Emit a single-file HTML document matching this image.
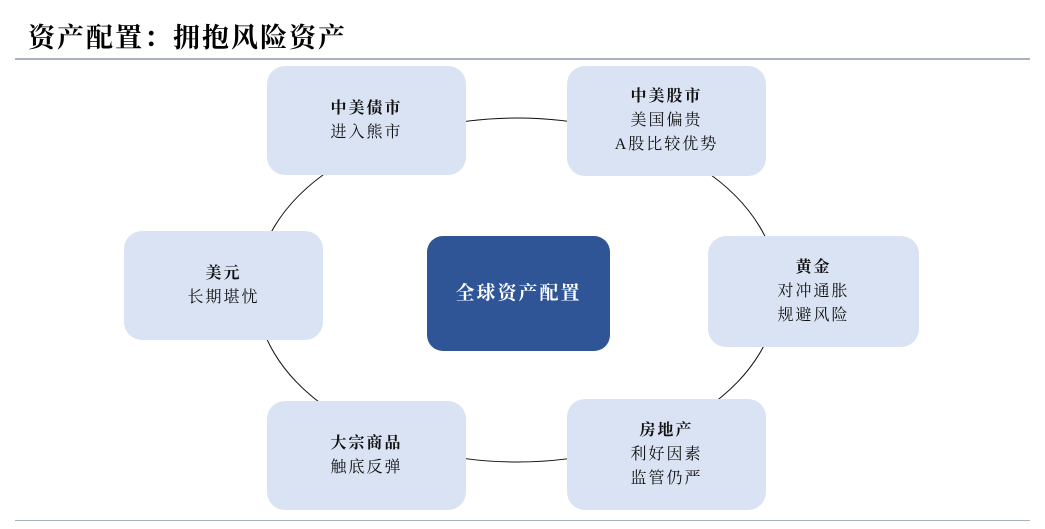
<!DOCTYPE html>
<html><head><meta charset="utf-8"><style>
body{margin:0;width:1045px;height:529px;background:#fff;position:relative;overflow:hidden;font-family:"Liberation Serif","Noto Serif CJK SC",serif;}
.t{position:absolute;left:28px;top:16px;font-size:27px;letter-spacing:2px;color:#000;font-weight:bold;}
.hl{position:absolute;left:15px;width:1015px;height:2px;background:#a9b1c0;}
.b{position:absolute;background:#dae3f3;border-radius:18px;display:flex;flex-direction:column;justify-content:center;align-items:center;font-size:16px;line-height:24px;color:#111;letter-spacing:2px;}
.b b{font-weight:bold;}
.c{background:#2f5597;color:#fff;font-size:19px;font-weight:bold;border-radius:16px;}
</style></head><body>
<div class="t">资产配置：拥抱风险资产</div>
<div class="hl" style="top:58px"></div>
<div class="hl" style="top:520px;height:1px"></div>
<svg style="position:absolute;left:0;top:0" width="1045" height="529"><ellipse cx="517" cy="290" rx="261" ry="172" fill="none" stroke="#111" stroke-width="1"/></svg>
<div class="b" style="left:267px;top:66px;width:199px;height:109px"><b>中美债市</b>进入熊市</div>
<div class="b" style="left:567px;top:66px;width:199px;height:110px"><b>中美股市</b>美国偏贵<span>A股比较优势</span></div>
<div class="b" style="left:708px;top:236px;width:211px;height:111px"><b>黄金</b>对冲通胀<span>规避风险</span></div>
<div class="b" style="left:567px;top:399px;width:199px;height:111px"><b>房地产</b>利好因素<span>监管仍严</span></div>
<div class="b" style="left:267px;top:401px;width:199px;height:109px"><b>大宗商品</b>触底反弹</div>
<div class="b" style="left:124px;top:231px;width:199px;height:109px"><b>美元</b>长期堪忧</div>
<div class="b c" style="left:427px;top:236px;width:183px;height:115px">全球资产配置</div>
</body></html>
